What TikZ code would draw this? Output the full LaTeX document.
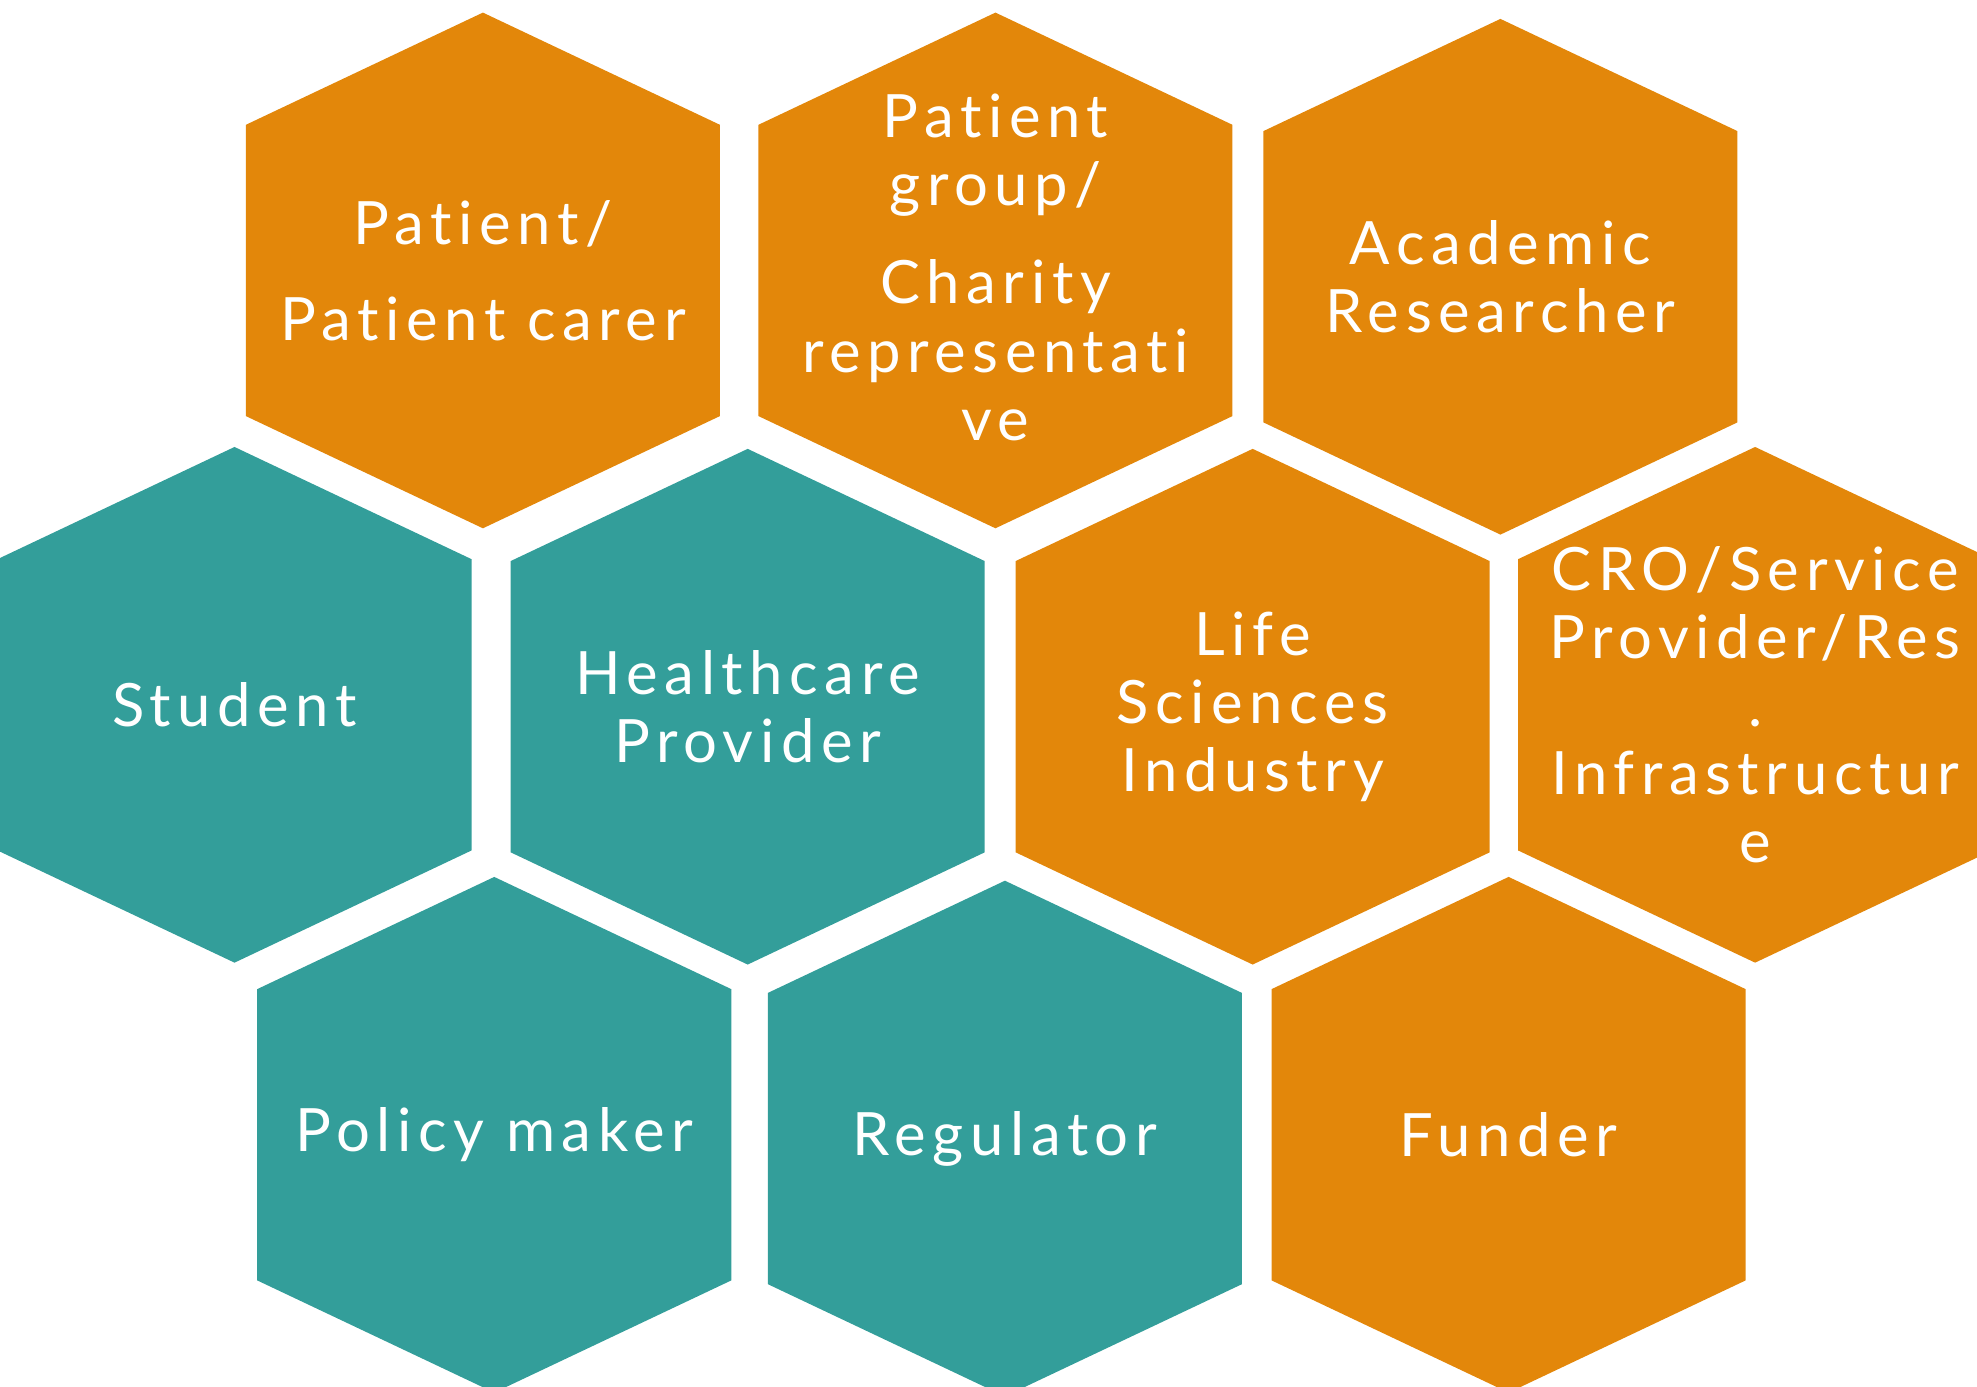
\documentclass[tikz,border=0pt]{standalone}
\usepackage{fontspec}
\setmainfont[LetterSpace=11,Ligatures={NoCommon}]{Lato}
\usetikzlibrary{positioning}
\definecolor{hexorange}{HTML}{E3870A}
\definecolor{hexteal}{HTML}{339E9A}
\tikzset{
    celltext/.style = {text=white, align=center,
        font=\fontsize{17}{19.4}\selectfont},
    orangecell/.style = {fill=hexorange},
    tealcell/.style = {fill=hexteal}
}
\def\hexagon{%
    +(0,-204.5) -- +(188,-115.5) -- +(188,115.5) -- +(0,204.5) -- +(-188,115.5) -- +(-188,-115.5) -- cycle
}

\begin{document}
\begin{tikzpicture}[x=0.126084mm, y=-0.126084mm]
    \useasboundingbox (0,0) rectangle (1568,1100);
    % top row
    \fill [orangecell] (383,214.5) \hexagon;
    \node [celltext] (patient) at (383,214.5) {Patient/\\[8pt] Patient carer};
    \fill [orangecell] (789.5,214.5) \hexagon;
    \node [celltext] (charity) at (789.5,212) {Patient\\ group/\\[8.5pt] Charity\\ representati\\ ve};
    \fill [orangecell] (1190,219.5) \hexagon;
    \node [celltext] (academic) at (1190,219.5) {Academic\\ Researcher};
    % middle row
    \fill [tealcell] (186,559) \hexagon;
    \node [celltext] (student) at (186,559) {Student};
    \fill [tealcell] (593,560.5) \hexagon;
    \node [celltext] (healthcare) at (593,560.5) {Healthcare\\ Provider};
    \fill [orangecell] (993.5,560.5) \hexagon;
    \node [celltext] (industry) at (993.5,560.5) {Life\\ Sciences\\ Industry};
    \fill [orangecell] (1392,559) \hexagon;
    \node [celltext] (cro) at (1392,559) {CRO/Service\\ Provider/Res\\ .\\ Infrastructur\\ e};
    % bottom row
    \fill [tealcell] (392,900) \hexagon;
    \node [celltext] (policy) at (392,900) {Policy maker};
    \fill [tealcell] (797,903) \hexagon;
    \node [celltext] (regulator) at (797,903) {Regulator};
    \fill [orangecell] (1196.5,900) \hexagon;
    \node [celltext] (funder) at (1196.5,900) {Funder};
\end{tikzpicture}
\end{document}
